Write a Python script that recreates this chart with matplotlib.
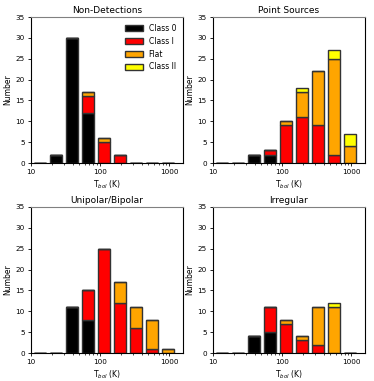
import numpy as np
import matplotlib
matplotlib.use('Agg')
import matplotlib.pyplot as plt

# log10 bin centres of Tbol
log_centres = [1.125, 1.3575, 1.59, 1.8225, 2.055, 2.2875, 2.52, 2.7525, 2.985]

titles = ['Non-Detections', 'Point Sources', 'Unipolar/Bipolar', 'Irregular']
classes = ['Class 0', 'Class I', 'Flat', 'Class II']
colors = ['black', 'red', 'orange', 'yellow']

nondet = [[0, 2, 30, 12, 0, 0, 0, 0, 0],
          [0, 0, 0, 4, 5, 2, 0, 0, 0],
          [0, 0, 0, 1, 1, 0, 0, 0, 0],
          [0, 0, 0, 0, 0, 0, 0, 0, 0]]
point = [[0, 0, 2, 2, 0, 0, 0, 0, 0],
         [0, 0, 0, 1, 9, 11, 9, 2, 0],
         [0, 0, 0, 0, 1, 6, 13, 23, 4],
         [0, 0, 0, 0, 0, 1, 0, 2, 3]]
bipolar = [[0, 0, 11, 8, 0, 0, 0, 0, 0],
           [0, 0, 0, 7, 25, 12, 6, 1, 0],
           [0, 0, 0, 0, 0, 5, 5, 7, 1],
           [0, 0, 0, 0, 0, 0, 0, 0, 0]]
irregular = [[0, 0, 4, 5, 0, 0, 0, 0, 0],
             [0, 0, 0, 6, 7, 3, 2, 0, 0],
             [0, 0, 0, 0, 1, 1, 9, 11, 0],
             [0, 0, 0, 0, 0, 0, 0, 1, 0]]
all_counts = [nondet, point, bipolar, irregular]

half = 0.088
lc = np.array(log_centres)
left = 10**(lc - half)
width = 10**(lc + half) - left

fig = plt.figure(figsize=(3.74, 3.81), dpi=100)
boxes = [[31, 17], [213, 17], [31, 207], [213, 207]]
W, H = 374.0, 381.0

for i in range(4):
    x0, y0 = boxes[i]
    ax = fig.add_axes([x0 / W, 1 - (y0 + 146) / H, 152 / W, 146 / H])
    bottom = np.zeros(len(lc))
    for j in range(4):
        c = np.array(all_counts[i][j], dtype=float)
        ax.bar(left, c, width=width, bottom=bottom, align='edge',
               color=colors[j], edgecolor='#333333', linewidth=1.0,
               label=classes[j])
        bottom += c
    ax.set_xscale('log')
    ax.set_xlim(10, 1580)
    ax.set_ylim(0, 35)
    ax.set_yticks(range(0, 36, 5))
    ax.set_xticks([10, 100, 1000])
    ax.set_xticklabels(['10', '100', '1000'])
    ax.tick_params(labelsize=5.2, length=2.5, width=0.6, pad=2)
    ax.tick_params(which='minor', length=1.5, width=0.5)
    ax.set_title(titles[i], fontsize=6.5, pad=3)
    ax.set_xlabel('T$_{bol}$ (K)', fontsize=5.5, labelpad=2)
    ax.set_ylabel('Number', fontsize=5.5, labelpad=2)
    for s in ax.spines.values():
        s.set_linewidth(0.8)
    ax.spines['top'].set_color('gray')
    if i == 0:
        ax.legend(fontsize=5.5, frameon=False, loc='upper right',
                  handlelength=2.3, handleheight=0.9, labelspacing=0.5,
                  handletextpad=0.8, borderaxespad=0.5)

plt.savefig('out.png', dpi=100)
